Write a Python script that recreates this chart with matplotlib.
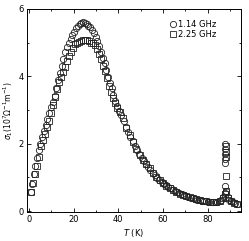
import matplotlib.pyplot as plt
from matplotlib.ticker import MultipleLocator

# 1.14 GHz (circles)
t_114 = [0.8, 1.3, 2.0, 2.8, 3.5, 4.3, 5.0, 5.8, 6.6, 7.4, 8.2, 9.0, 9.8, 10.6, 11.4,
         12.2, 13.0, 13.8, 14.6, 15.4, 16.2, 17.0, 17.8, 18.6, 19.4, 20.2, 21.0, 21.8,
         22.6, 23.4, 24.2, 25.0, 25.8, 26.6, 27.4, 28.2, 29.0, 29.8, 30.6, 31.4, 32.2,
         33.0, 33.8, 34.6, 35.4, 36.2, 37.0, 37.8, 38.6, 39.4, 40.4, 41.4, 42.4, 43.4,
         44.4, 45.4, 46.4, 47.4, 48.4, 49.4, 50.4, 51.4, 52.4, 53.4, 54.4, 55.4, 56.4,
         57.4, 58.4, 59.4, 60.4, 61.4, 62.4, 63.4, 64.4, 65.4, 66.4, 67.4, 68.4, 69.4,
         70.4, 71.4, 72.4, 73.4, 74.4, 75.4, 76.4, 77.4, 78.4, 79.4, 80.4, 81.4, 82.4,
         83.4, 84.4, 85.4, 86.2, 87.0, 87.6, 88.0, 88.0, 88.0, 88.0, 88.0, 88.0, 88.4,
         89.0, 89.8, 90.6, 91.4, 92.2, 93.0]
s_114 = [0.56, 0.80, 1.10, 1.35, 1.58, 1.80, 2.00, 2.20, 2.38, 2.55, 2.72, 2.90, 3.08,
         3.25, 3.42, 3.64, 3.88, 4.10, 4.30, 4.50, 4.72, 4.88, 5.00, 5.12, 5.22, 5.32,
         5.42, 5.50, 5.55, 5.58, 5.60, 5.58, 5.55, 5.50, 5.45, 5.38, 5.30, 5.18, 5.05,
         4.90, 4.72, 4.55, 4.38, 4.18, 3.98, 3.80, 3.64, 3.45, 3.28, 3.12, 2.98, 2.85,
         2.68, 2.50, 2.35, 2.20, 2.07, 1.93, 1.80, 1.68, 1.58, 1.48, 1.40, 1.32, 1.23,
         1.14, 1.06, 0.98, 0.92, 0.86, 0.81, 0.76, 0.71, 0.67, 0.63, 0.59, 0.56, 0.53,
         0.50, 0.47, 0.45, 0.42, 0.40, 0.38, 0.36, 0.34, 0.33, 0.31, 0.30, 0.29, 0.28,
         0.27, 0.26, 0.26, 0.27, 0.29, 0.33, 0.42, 0.55, 0.75, 1.42, 1.55, 1.70, 1.85,
         2.00, 0.60, 0.42, 0.33, 0.29, 0.26, 0.24, 0.22]

# 2.25 GHz (squares)
t_225 = [0.9, 1.8, 2.6, 3.4, 4.3, 5.2, 6.1, 7.0, 7.9, 8.8, 9.7, 10.6, 11.5, 12.4, 13.3,
         14.2, 15.1, 16.0, 16.9, 17.8, 18.7, 19.6, 20.5, 21.4, 22.3, 23.2, 24.1, 25.0,
         25.9, 26.8, 27.7, 28.6, 29.5, 30.4, 31.3, 32.2, 33.1, 34.0, 34.9, 35.8, 36.7,
         37.6, 38.5, 39.4, 40.6, 42.0, 43.5, 45.0, 46.5, 48.0, 49.5, 51.0, 52.5, 54.0,
         55.5, 57.0, 58.5, 60.0, 61.5, 63.0, 64.5, 66.0, 67.5, 69.0, 70.5, 72.0, 73.5,
         75.0, 76.5, 78.0, 79.5, 81.0, 82.5, 84.0, 85.5, 86.8, 87.6, 88.2, 88.2, 88.2,
         88.2, 88.2, 89.2, 90.5, 92.0, 93.2]
s_225 = [0.58, 0.83, 1.10, 1.35, 1.60, 1.92, 2.10, 2.30, 2.50, 2.68, 2.90, 3.15, 3.38,
         3.62, 3.84, 3.98, 4.12, 4.28, 4.45, 4.60, 4.73, 4.85, 4.95, 5.00, 5.03, 5.05,
         5.07, 5.08, 5.07, 5.04, 5.00, 4.98, 4.92, 4.80, 4.65, 4.50, 4.32, 4.15, 3.95,
         3.72, 3.52, 3.36, 3.20, 3.05, 2.95, 2.75, 2.47, 2.25, 2.05, 1.85, 1.67, 1.52,
         1.39, 1.27, 1.13, 1.01, 0.91, 0.83, 0.75, 0.69, 0.63, 0.57, 0.52, 0.48, 0.44,
         0.41, 0.38, 0.35, 0.32, 0.30, 0.29, 0.27, 0.26, 0.27, 0.30, 0.38, 0.50, 0.60,
         1.05, 1.60, 1.75, 1.92, 0.40, 0.30, 0.25, 0.22]

fig = plt.figure(figsize=(2.49, 2.41), dpi=100)
ax = fig.add_axes([0.108, 0.12, 0.86, 0.843])

ax.plot(t_114, s_114, 'o', mfc='none', mec='#222222', ms=4.5, mew=0.6, label='1.14 GHz')
ax.plot(t_225, s_225, 's', mfc='none', mec='#222222', ms=4.1, mew=0.6, label='2.25 GHz')

ax.set_xlim(-1, 95)
ax.set_ylim(-0.03, 6)
ax.xaxis.set_major_locator(MultipleLocator(20))
ax.xaxis.set_minor_locator(MultipleLocator(10))
ax.yaxis.set_major_locator(MultipleLocator(2))
ax.yaxis.set_minor_locator(MultipleLocator(1))
ax.tick_params(which='both', direction='in', top=True, right=True, labelsize=6, width=0.6, pad=2)
ax.tick_params(which='major', length=3)
ax.tick_params(which='minor', length=1.5)
for sp in ax.spines.values():
    sp.set_linewidth(0.7)

ax.set_xlabel(r'$T$ (K)', fontsize=6, labelpad=2)
ax.set_ylabel(r'$\sigma_1$(10$^7$$\Omega^{-1}$m$^{-1}$)', fontsize=5.5, labelpad=3)

ax.legend(loc='upper right', bbox_to_anchor=(0.9, 0.96), fontsize=6, frameon=False,
          handletextpad=0.1, handlelength=1.0, labelspacing=0.1, borderaxespad=0.0)

fig.savefig('out.png', dpi=100)
